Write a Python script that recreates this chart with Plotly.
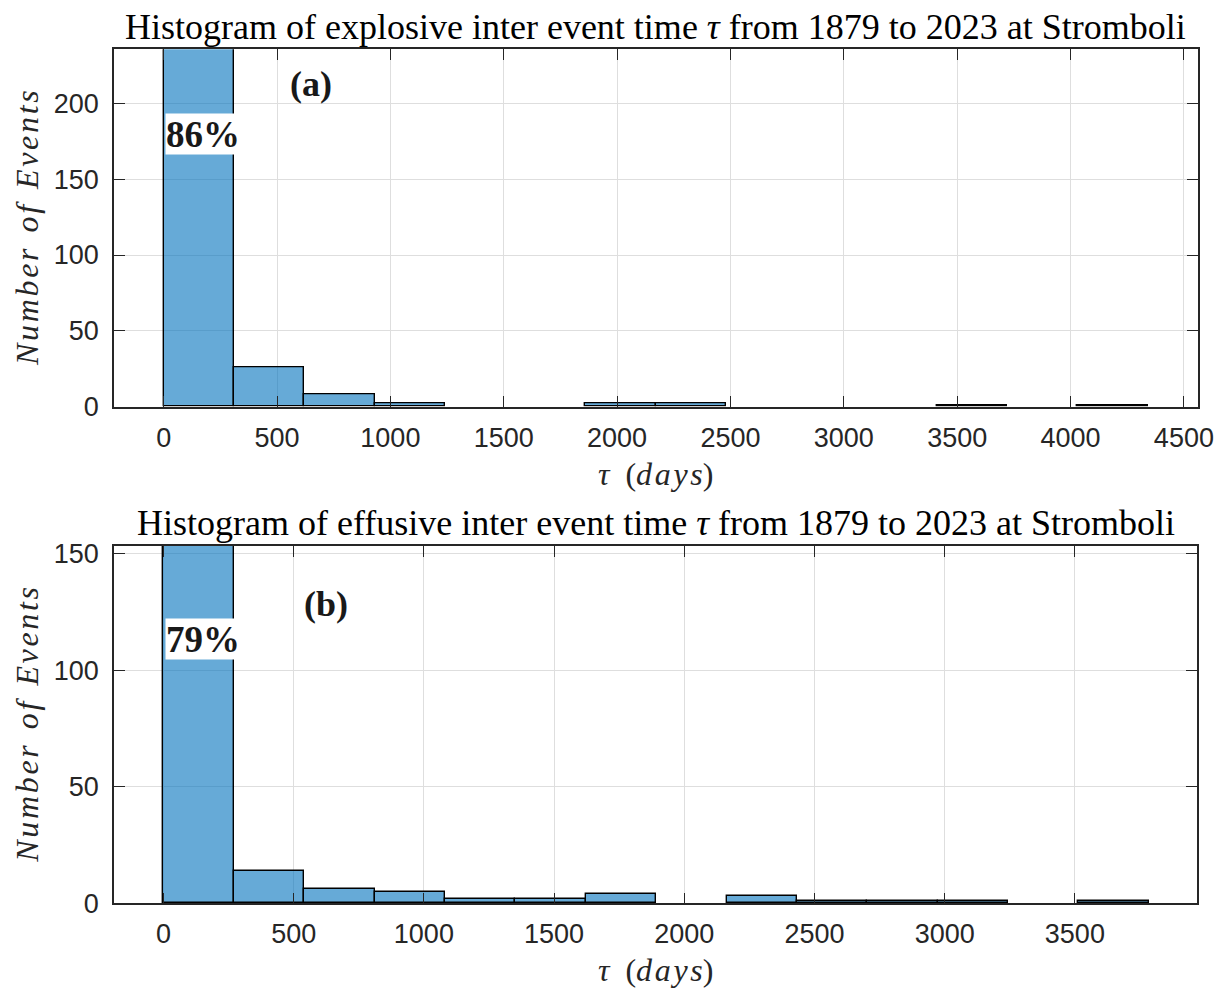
import plotly.graph_objects as go

# Histogram counts of inter-event times (days) at Stromboli, 1879-2023
explosive_bin_width = 310.0
explosive_counts = [258, 26, 8, 2, 0, 0, 2, 2, 0, 0, 0, 1, 0, 1]

effusive_bin_width = 270.3
effusive_counts = [155, 14, 6, 5, 2, 2, 4, 0, 3, 1, 1, 1, 0, 1]

explosive_xticks = [0, 500, 1000, 1500, 2000, 2500, 3000, 3500, 4000, 4500]
effusive_xticks = [0, 500, 1000, 1500, 2000, 2500, 3000, 3500]
explosive_yticks = [0, 50, 100, 150, 200]
effusive_yticks = [0, 50, 100, 150]

title_a = "Histogram of explosive inter event time <i>τ</i> from 1879 to 2023 at Stromboli"
title_b = "Histogram of effusive inter event time <i>τ</i> from 1879 to 2023 at Stromboli"

W, H = 1227, 988
FILL = "rgba(0,114,189,0.6)"
AXC = "rgb(38,38,38)"
GRID = "rgb(222,222,222)"
SERIF = "Liberation Serif"
SANS = "Liberation Sans"
HS = "\u200a"  # hair space, widens the italic math-style labels

# panel placement in pixels (left, right, top, bottom)
panels = {
    "a": dict(l=114, r=1197.5, t=49.3, b=406.7),
    "b": dict(l=114, r=1197.0, t=546.0, b=903.3),
}


def spaced(word):
    return HS.join(word)


ylabel = "<i>" + "\u2002".join(spaced(w) for w in ("Number", "of", "Events")) + "</i>"
xlabel = "<i>τ</i>\u2002(<i>" + spaced("days") + "</i>)"


def bins(width, counts):
    # empty bins are left out so no outline is drawn for them
    xs, ys = [], []
    for i, c in enumerate(counts):
        if c > 0:
            xs.append(width * (i + 0.5))
            ys.append(c)
    return xs, ys


fig = go.Figure()

xa, ya = bins(explosive_bin_width, explosive_counts)
fig.add_trace(go.Bar(
    x=xa, y=ya, width=explosive_bin_width,
    marker=dict(color=FILL, line=dict(color="black", width=1.4)),
    xaxis="x", yaxis="y", showlegend=False, hoverinfo="x+y"))
xb, yb = bins(effusive_bin_width, effusive_counts)
fig.add_trace(go.Bar(
    x=xb, y=yb, width=effusive_bin_width,
    marker=dict(color=FILL, line=dict(color="black", width=1.4)),
    xaxis="x2", yaxis="y2", showlegend=False, hoverinfo="x+y"))


def axis_common():
    return dict(
        showline=True, linecolor=AXC, linewidth=1.5, mirror="ticks",
        ticks="inside", ticklen=11, tickwidth=1.2, tickcolor=AXC,
        showgrid=True, gridcolor=GRID, gridwidth=1, zeroline=False,
        tickfont=dict(family=SANS, size=27, color=AXC),
        tickmode="array", automargin=False,
    )


def dom_x(p):
    return [p["l"] / W, p["r"] / W]


def dom_y(p):
    return [1 - p["b"] / H, 1 - p["t"] / H]


pa, pb = panels["a"], panels["b"]
fig.update_layout(
    width=W, height=H, margin=dict(l=0, r=0, t=0, b=0, autoexpand=False),
    paper_bgcolor="white", plot_bgcolor="white", bargap=0,
    xaxis=dict(domain=dom_x(pa), range=[-219, 4560], tickvals=explosive_xticks,
               ticklabelstandoff=6, anchor="y", **axis_common()),
    yaxis=dict(domain=dom_y(pa), range=[0, 235.6], tickvals=explosive_yticks,
               ticklabelstandoff=8, anchor="x", **axis_common()),
    xaxis2=dict(domain=dom_x(pb), range=[-190, 3969], tickvals=effusive_xticks,
                ticklabelstandoff=6, anchor="y2", **axis_common()),
    yaxis2=dict(domain=dom_y(pb), range=[0, 153.3], tickvals=effusive_yticks,
                ticklabelstandoff=8, anchor="x2", **axis_common()),
)

ann = []


def px_x(x):
    return x / W


def px_y(y):
    return 1 - y / H


for p, title, cy in ((pa, title_a, 27), (pb, title_b, 523)):
    cx = (p["l"] + p["r"]) / 2
    ann.append(dict(text=title, x=px_x(cx), y=px_y(cy), xref="paper", yref="paper",
                    showarrow=False, xanchor="center", yanchor="middle",
                    font=dict(family=SERIF, size=36, color="black")))
    ann.append(dict(text=ylabel, x=px_x(27), y=px_y((p["t"] + p["b"]) / 2),
                    xref="paper", yref="paper", showarrow=False, textangle=-90,
                    xanchor="center", yanchor="middle",
                    font=dict(family=SERIF, size=32, color=AXC)))
    ann.append(dict(text=xlabel, x=px_x(cx), y=px_y(p["b"] + 67),
                    xref="paper", yref="paper", showarrow=False,
                    xanchor="center", yanchor="middle",
                    font=dict(family=SERIF, size=32, color=AXC)))

# share of events in the first bin, plus panel letters
for counts, width, xr, yr, x_lab, y_lab, y_pct, label in (
        (explosive_counts, explosive_bin_width, "x", "y", 650, 213, 180, "(a)"),
        (effusive_counts, effusive_bin_width, "x2", "y2", 623, 128.5, 113.4, "(b)")):
    pct = 100.0 * counts[0] / sum(counts)
    ann.append(dict(text=f"<b>{pct:.0f}%</b>", x=width / 2 + 18, y=y_pct, xref=xr, yref=yr,
                    showarrow=False, bgcolor="white", height=40, borderpad=0,
                    xanchor="center", yanchor="middle",
                    font=dict(family=SERIF, size=37, color="rgb(25,25,25)")))
    ann.append(dict(text=f"<b>{label}</b>", x=x_lab, y=y_lab, xref=xr, yref=yr,
                    showarrow=False, xanchor="center", yanchor="middle",
                    font=dict(family=SERIF, size=36, color="rgb(25,25,25)")))

fig.update_layout(annotations=ann)
fig.write_html("out.html")
